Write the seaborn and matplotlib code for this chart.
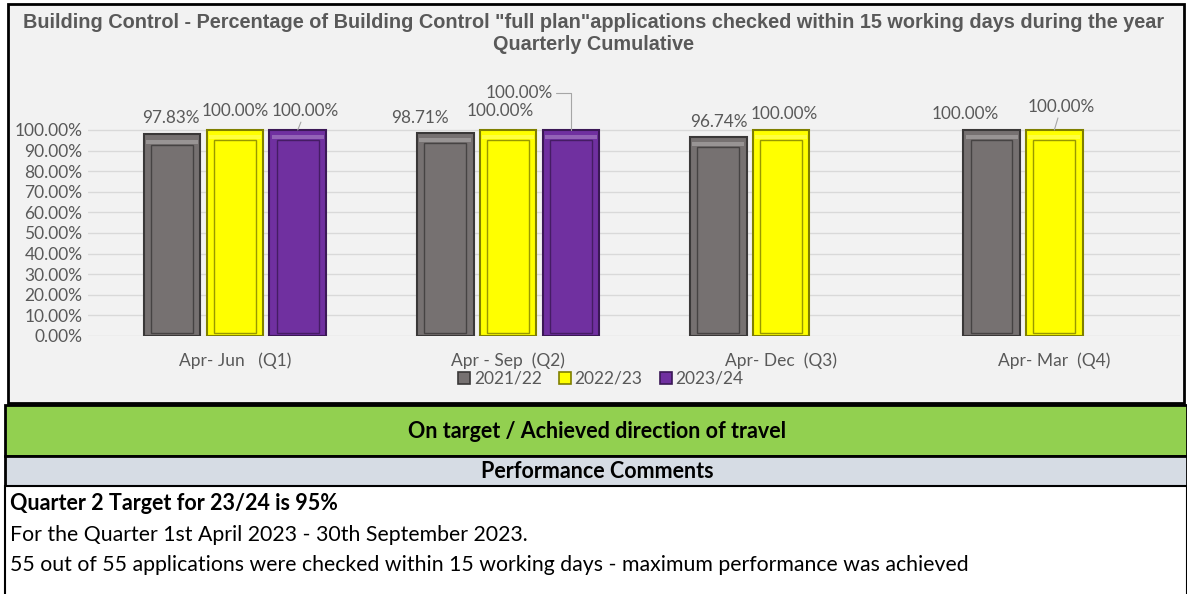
import matplotlib
matplotlib.use('Agg')
import matplotlib.pyplot as plt
from matplotlib.patches import Rectangle
import numpy as np
import pandas as pd
import seaborn as sns

# data
quarters = ["Apr- Jun   (Q1)", "Apr - Sep  (Q2)", "Apr- Dec  (Q3)", "Apr- Mar  (Q4)"]
years = ["2021/22", "2022/23", "2023/24"]
vals_2122 = [97.83, 98.71, 96.74, 100.00]
vals_2223 = [100.00, 100.00, 100.00, 100.00]
vals_2324 = [100.00, 100.00, np.nan, np.nan]

title_lines = ['Building Control - Percentage of Building Control "full plan"applications checked within 15 working days during the year',
               'Quarterly Cumulative']
status_text = "On target / Achieved direction of travel"
comments_head = "Performance Comments"
comments = ["Quarter 2 Target for 23/24 is 95%",
            "For the Quarter 1st April 2023 - 30th September 2023.",
            "55 out of 55 applications were checked within 15 working days - maximum performance was achieved"]

fills = {"2021/22": "#767171", "2022/23": "#FFFF00", "2023/24": "#7030A0"}
edges = {"2021/22": "#3A3838", "2022/23": "#7F7F00", "2023/24": "#3B1856"}

df = pd.DataFrame({
    "quarter": quarters * 3,
    "year": np.repeat(years, len(quarters)),
    "value": vals_2122 + vals_2223 + vals_2324,
})

W, H = 1187, 594
sns.set_theme(style="white")
plt.rcParams['font.family'] = ['Lato', 'DejaVu Sans']
fig = plt.figure(figsize=(W / 100, H / 100), dpi=100)
fig.patch.set_facecolor("white")


def fx(x):
    return x / W


def fy(y):
    return 1 - y / H


def box(x0, y0, x1, y1, fc, lw=1.5):
    r = Rectangle((fx(x0), fy(y1)), fx(x1) - fx(x0), fy(y0) - fy(y1),
                  transform=fig.transFigure, facecolor=fc,
                  edgecolor="black", linewidth=lw, zorder=-5)
    fig.add_artist(r)


# panels
box(8, 4, 1184, 403, "#F2F2F2", lw=2)
box(5, 405, 1187, 456, "#92D050", lw=2)
box(5, 456, 1187, 486, "#D6DCE4", lw=2)
box(5, 486, 1187, 600, "white", lw=1.5)

grey = "#595959"
fig.text(fx(594), fy(22), title_lines[0], ha="center", va="center", fontsize=14.3,
         fontweight="bold", color=grey, family="Liberation Sans")
fig.text(fx(594), fy(45), title_lines[1], ha="center", va="center", fontsize=14.3,
         fontweight="bold", color=grey, family="Liberation Sans")

fig.text(fx(597), fy(432), status_text, ha="center", va="center", fontsize=15.5,
         fontweight="bold", color="black")
fig.text(fx(597), fy(472), comments_head, ha="center", va="center", fontsize=15.5,
         fontweight="bold", color="black")
fig.text(fx(10), fy(504), comments[0], ha="left", va="center", fontsize=15.5,
         fontweight="bold", color="black")
fig.text(fx(10), fy(535), comments[1], ha="left", va="center", fontsize=15.3, color="black")
fig.text(fx(10), fy(565), comments[2], ha="left", va="center", fontsize=15.3, color="black")

# chart axes
ax = fig.add_axes([fx(88), fy(336), fx(1180) - fx(88), fy(90) - fy(336)])
ax.set_facecolor("none")
sns.barplot(data=df, x="quarter", y="value", hue="year", hue_order=years, order=quarters,
            palette=fills, saturation=1, width=0.69, gap=0.1, legend=False, ax=ax,
            linewidth=1.5, edgecolor="#333333", zorder=3)

ax.set_xlim(-0.538, 3.46)
ax.set_ylim(0, 119.4)
ax.set_yticks(np.arange(0, 101, 10))
ax.set_yticklabels([f"{v:.2f}%" for v in np.arange(0, 101, 10)], fontsize=12.5, color=grey)
ax.set_xticklabels(quarters, fontsize=12.5, color=grey)
ax.tick_params(axis="x", pad=12, length=0)
ax.tick_params(axis="y", pad=4, length=0)
ax.set_xlabel("")
ax.set_ylabel("")
ax.grid(axis="y", color="#D9D9D9", linewidth=1, zorder=0)
sns.despine(ax=ax, left=True, bottom=True, top=True, right=True)

# label offsets in points (dx, dy) and whether a leader line is drawn
label_off = {
    (0, 0): (-1, 6, False), (0, 1): (0, 8, False), (0, 2): (5.5, 8, True),
    (1, 0): (-18, 5, False), (1, 1): (-5.5, 8, False), (1, 2): (-37, 21, True),
    (2, 0): (0, 5, False), (2, 1): (2, 6, False),
    (3, 0): (-19, 6, False), (3, 1): (5, 11, True),
}

for yi, (year, cont) in enumerate(zip(years, ax.containers)):
    for bar in cont:
        h = bar.get_height()
        if np.isnan(h):
            continue
        bar.set_edgecolor(edges[year])
        x0, w = bar.get_x(), bar.get_width()
        qi = int(round(x0 + w / 2))
        # bevel: inner outline inset in the bar
        ax.add_patch(Rectangle((x0 + w * 0.13, 1.5), w * 0.74, h - 6.5, facecolor="none",
                               edgecolor=edges[year], linewidth=1.0, alpha=0.8, zorder=4))
        ax.add_patch(Rectangle((x0 + w * 0.04, h - 4.5), w * 0.92, 2.0, facecolor="white",
                               edgecolor="none", alpha=0.25, zorder=4))
        dx, dy, lead = label_off.get((qi, yi), (0, 6, False))
        arrow = None
        if lead:
            arrow = dict(arrowstyle="-", color="#A6A6A6", lw=0.8, shrinkA=0, shrinkB=0)
            if dx < -20:
                arrow["connectionstyle"] = "angle,angleA=0,angleB=90,rad=0"
        ax.annotate(f"{h:.2f}%", (x0 + w / 2, h), xytext=(dx, dy), textcoords="offset points",
                    ha="center", va="bottom", fontsize=12.3, color=grey, zorder=6,
                    arrowprops=arrow)

handles = [Rectangle((0, 0), 1, 1, facecolor=fills[y], edgecolor=edges[y], linewidth=1.2)
           for y in years]
fig.legend(handles, years, loc="center", bbox_to_anchor=(fx(601), fy(379)), ncol=3,
           frameon=False, fontsize=12.5, handlelength=0.7, handleheight=0.7,
           handletextpad=0.2, columnspacing=1.0, labelcolor=grey)

fig.savefig("out.png", dpi=100)
